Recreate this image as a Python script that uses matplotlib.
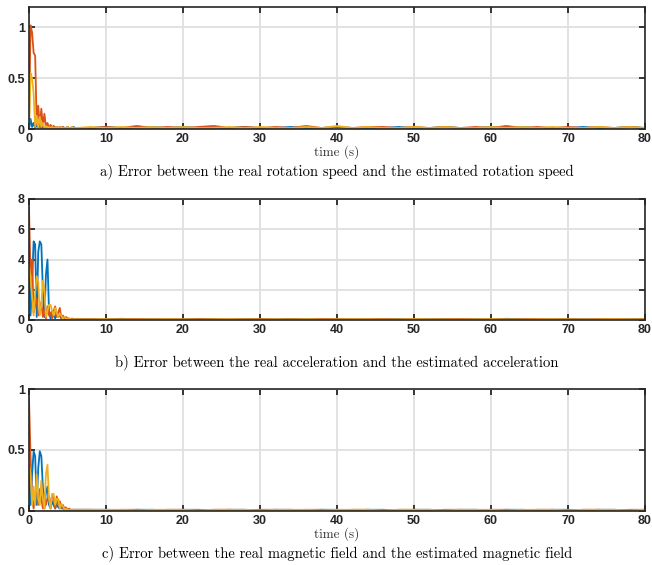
import numpy as np
import matplotlib
matplotlib.use("Agg")
import matplotlib.pyplot as plt

# time grid: fine at the start, coarse on the tail
t_early = np.round(np.arange(0, 6.01, 0.2), 2)
t_tail = np.arange(8, 81, 2)
t = np.concatenate([t_early, t_tail])

# a) rotation speed error
rot_blue = [0.0, 0.10, 0.02, 0.06, 0.01, 0.04, 0.01, 0.03, 0.01, 0.02, 0.01, 0.02, 0.01, 0.01, 0.01,
            0.02, 0.01, 0.01, 0.02, 0.01, 0.01, 0.01, 0.02, 0.01, 0.01, 0.02, 0.01, 0.01, 0.01, 0.02, 0.01,
            0.01, 0.02, 0.01, 0.01, 0.02, 0.01, 0.02, 0.01, 0.01, 0.01, 0.02, 0.01, 0.01, 0.02, 0.01, 0.01,
            0.02, 0.01, 0.01, 0.01, 0.02, 0.01, 0.01, 0.02, 0.01, 0.01, 0.02, 0.01, 0.02, 0.01, 0.01, 0.01,
            0.02, 0.01, 0.01, 0.02, 0.01]
rot_orange = [0.0, 1.02, 0.95, 0.75, 0.72, 0.05, 0.23, 0.02, 0.20, 0.03, 0.15, 0.02, 0.06, 0.01, 0.04,
              0.02, 0.03, 0.01, 0.02, 0.01, 0.02, 0.01, 0.02, 0.01, 0.01, 0.02, 0.01, 0.01, 0.02, 0.01, 0.01,
              0.01, 0.02, 0.01, 0.03, 0.01, 0.02, 0.01, 0.02, 0.03, 0.01, 0.02, 0.01, 0.02, 0.01, 0.03, 0.01,
              0.02, 0.01, 0.02, 0.02, 0.01, 0.02, 0.01, 0.02, 0.01, 0.02, 0.01, 0.03, 0.01, 0.02, 0.01, 0.02,
              0.01, 0.02, 0.01, 0.02, 0.01]
rot_yellow = [0.0, 0.55, 0.50, 0.35, 0.02, 0.13, 0.01, 0.12, 0.02, 0.06, 0.01, 0.03, 0.01, 0.02, 0.01,
              0.02, 0.01, 0.01, 0.02, 0.01, 0.01, 0.02, 0.01, 0.01, 0.01, 0.02, 0.01, 0.01, 0.02, 0.01, 0.01,
              0.02, 0.01, 0.02, 0.01, 0.02, 0.01, 0.02, 0.01, 0.01, 0.02, 0.01, 0.02, 0.01, 0.01, 0.02, 0.01,
              0.03, 0.01, 0.02, 0.01, 0.01, 0.02, 0.01, 0.02, 0.01, 0.01, 0.02, 0.01, 0.02, 0.01, 0.02, 0.01,
              0.01, 0.02, 0.01, 0.02, 0.01]

# b) acceleration error
acc_blue = [5.0, 0.3, 2.5, 5.2, 5.0, 0.2, 4.5, 5.2, 5.0, 2.0, 0.2, 3.0, 4.0, 0.5, 0.1, 0.6,
            0.3, 0.1, 0.5, 0.2, 0.3, 0.1, 0.2, 0.05, 0.1, 0.05, 0.08, 0.04, 0.06, 0.04, 0.05,
            0.06, 0.05, 0.08, 0.04, 0.05, 0.06, 0.04, 0.07, 0.05, 0.04, 0.06, 0.05, 0.04, 0.07, 0.05, 0.04,
            0.06, 0.05, 0.04, 0.05, 0.06, 0.04, 0.05, 0.06, 0.04, 0.05, 0.04, 0.08, 0.05, 0.04, 0.05, 0.06,
            0.04, 0.05, 0.04, 0.05, 0.06]
acc_orange = [7.4, 3.0, 4.0, 0.5, 1.0, 1.4, 0.3, 0.4, 1.2, 0.2, 0.6, 0.1, 0.9, 0.3, 0.5, 0.1,
              0.6, 0.9, 0.2, 0.5, 0.8, 0.1, 0.3, 0.1, 0.2, 0.1, 0.1, 0.05, 0.1, 0.05, 0.05,
              0.05, 0.04, 0.05, 0.06, 0.04, 0.05, 0.04, 0.06, 0.05, 0.04, 0.05, 0.06, 0.04, 0.05, 0.04, 0.06,
              0.05, 0.04, 0.05, 0.06, 0.04, 0.05, 0.04, 0.05, 0.06, 0.04, 0.05, 0.04, 0.05, 0.06, 0.04, 0.05,
              0.04, 0.05, 0.06, 0.04, 0.05]
acc_yellow = [3.6, 2.8, 1.5, 0.3, 1.8, 2.9, 2.5, 0.3, 1.0, 2.6, 2.0, 0.2, 0.6, 1.0, 1.0, 0.6,
              0.3, 0.8, 0.5, 0.2, 0.4, 0.3, 0.1, 0.2, 0.1, 0.05, 0.08, 0.04, 0.05, 0.04, 0.04,
              0.04, 0.05, 0.04, 0.03, 0.04, 0.05, 0.04, 0.03, 0.04, 0.05, 0.04, 0.03, 0.04, 0.04, 0.05, 0.03,
              0.04, 0.05, 0.04, 0.03, 0.04, 0.05, 0.04, 0.04, 0.03, 0.04, 0.05, 0.04, 0.03, 0.04, 0.05, 0.04,
              0.03, 0.04, 0.05, 0.04, 0.04]

# c) magnetic field error
mag_blue = [0.35, 0.05, 0.30, 0.49, 0.45, 0.05, 0.35, 0.49, 0.45, 0.20, 0.02, 0.15, 0.20, 0.05, 0.02, 0.08,
            0.05, 0.02, 0.06, 0.03, 0.02, 0.04, 0.02, 0.01, 0.02, 0.01, 0.01, 0.01, 0.01, 0.01, 0.01,
            0.01, 0.01, 0.005, 0.01, 0.01, 0.005, 0.01, 0.01, 0.005, 0.01, 0.01, 0.005, 0.01, 0.01, 0.005, 0.01,
            0.01, 0.005, 0.01, 0.01, 0.005, 0.01, 0.01, 0.005, 0.01, 0.01, 0.005, 0.01, 0.01, 0.005, 0.01, 0.01,
            0.005, 0.01, 0.01, 0.005, 0.01]
mag_orange = [0.92, 0.45, 0.10, 0.02, 0.15, 0.20, 0.05, 0.18, 0.10, 0.02, 0.15, 0.05, 0.10, 0.12, 0.03, 0.13,
              0.10, 0.02, 0.12, 0.05, 0.08, 0.02, 0.05, 0.02, 0.03, 0.01, 0.02, 0.01, 0.01, 0.01, 0.01,
              0.01, 0.005, 0.01, 0.01, 0.005, 0.01, 0.01, 0.005, 0.01, 0.01, 0.005, 0.01, 0.01, 0.005, 0.01, 0.01,
              0.005, 0.01, 0.01, 0.005, 0.01, 0.01, 0.005, 0.01, 0.01, 0.005, 0.01, 0.01, 0.005, 0.01, 0.01, 0.005,
              0.01, 0.01, 0.005, 0.01, 0.01]
mag_yellow = [0.38, 0.30, 0.05, 0.20, 0.05, 0.30, 0.10, 0.05, 0.25, 0.10, 0.02, 0.30, 0.38, 0.10, 0.02, 0.14,
              0.14, 0.05, 0.10, 0.10, 0.02, 0.06, 0.04, 0.01, 0.02, 0.01, 0.01, 0.01, 0.01, 0.01, 0.01,
              0.01, 0.01, 0.01, 0.005, 0.01, 0.01, 0.01, 0.005, 0.01, 0.01, 0.01, 0.005, 0.01, 0.01, 0.01, 0.005,
              0.01, 0.01, 0.01, 0.005, 0.01, 0.01, 0.01, 0.005, 0.01, 0.01, 0.01, 0.005, 0.01, 0.01, 0.01, 0.005,
              0.01, 0.01, 0.01, 0.005, 0.01]

captions = ["a) Error between the real rotation speed and the estimated rotation speed",
            "b) Error between the real acceleration and the estimated acceleration",
            "c) Error between the real magnetic field and the estimated magnetic field"]
yticks = [[0, 0.5, 1], [0, 2, 4, 6, 8], [0, 0.5, 1]]
ylims = [(0, 1.2), (0, 8), (0, 1)]
xticks = [0, 10, 20, 30, 40, 50, 60, 70, 80]

colors = ["#0072BD", "#D95319", "#EDB120"]
series = [(rot_blue, rot_orange, rot_yellow),
          (acc_blue, acc_orange, acc_yellow),
          (mag_blue, mag_orange, mag_yellow)]

fig = plt.figure(figsize=(6.52, 5.65), dpi=100)
W, H = 652, 565
boxes = [(7, 129), (199, 320), (389, 511)]
tick_font = dict(family="Liberation Sans", weight="bold", size=9)
dark = "#262626"

for i, (top, bot) in enumerate(boxes):
    ax = fig.add_axes([29 / W, 1 - bot / H, 616 / W, (bot - top) / H])
    for vals, c in zip(series[i], colors):
        ax.plot(t, vals, color=c, lw=1.3)
    ax.set_xlim(0, 80)
    ax.set_ylim(*ylims[i])
    ax.set_xticks(xticks)
    ax.set_yticks(yticks[i])
    ax.set_xticklabels([str(x) for x in xticks], **tick_font)
    ax.set_yticklabels([f"{y:g}" for y in yticks[i]], **tick_font)
    ax.grid(True, color="#DFDFDF", lw=1.3)
    ax.set_axisbelow(True)
    ax.tick_params(direction="in", length=4, width=1.3, colors=dark, top=True, right=True,
                   labelcolor=dark, pad=3)
    for s in ax.spines.values():
        s.set_linewidth(1.2)
        s.set_color(dark)
    hpx = bot - top
    if i != 1:
        ax.text(0.5, -23 / hpx, "time (s)", transform=ax.transAxes, ha="center", va="center",
                family="cmr10", size=9.5, color="#333333")
    ax.text(0.5, -42 / hpx, captions[i], transform=ax.transAxes, ha="center", va="center",
            family="cmr10", size=10.5, color="black")

fig.savefig("out.png", dpi=100)
